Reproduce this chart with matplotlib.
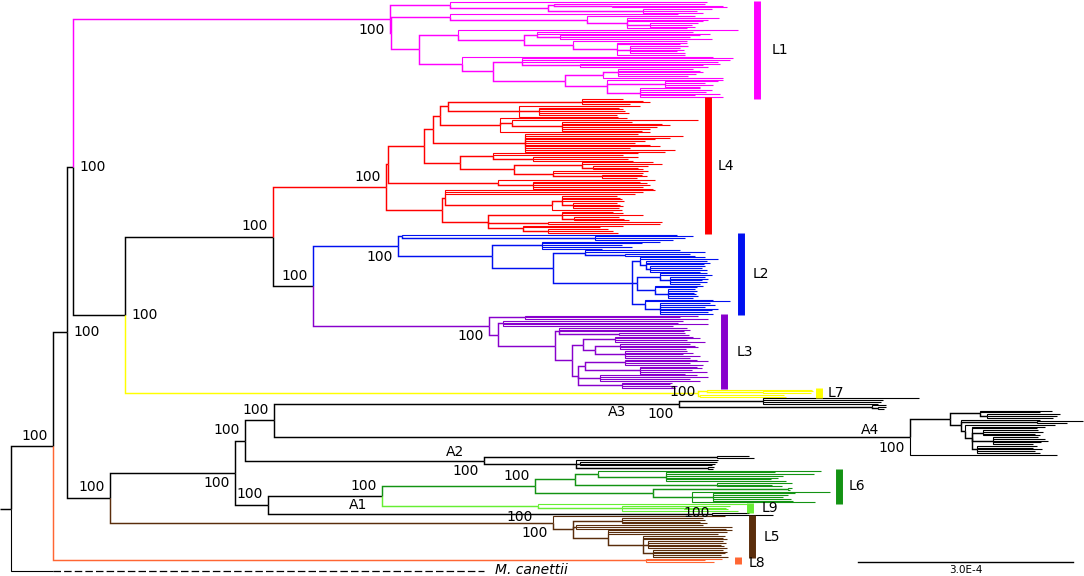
#!/usr/bin/env python3
"""Redraw the MTBC maximum-likelihood tree with lineage bars."""

import matplotlib

matplotlib.use("Agg")
import matplotlib.pyplot as plt
from matplotlib.collections import LineCollection

# Branch lengths are in scale-bar units: 215 units = 3.0E-4 substitutions/site.
L1 = ("((:257,((:151,(:111,:115):58):6,(:69,:54,:60):95):98):60,"
      "((:228,(:108,(:92,:81,:76,(:48,:42,:45):23,:60):40):137):59,"
      "((:280,((:156,:173,(:140,:130,:152):23):13,(:114,(:70,:63,(:58,:50,:54,:47,:55):13,:68):44):49):66):39,"
      "(:251,((:211,:208,:196,(:140,:123,:128):58):29,(((:75,:82,:85,:78,:70):15,:120):38,"
      "(:116,(:53,:40,:48,:35):58,(:60,:72,:66,:80,:55,:83):33):42):72):31):43):28):1)L1:317")
L4 = ("(((((((:41,:61,:68,:48):134,(:121,(:80,:84,:86,:90,:78):20,:99):71):8,"
      "(:127,(:186,(:70,:100,:108,:95,:88,:80):50):12,:150):60):7,"
      "(:113,:158,:145,:130,:120,:110,:125,:135,:105,:150,:140):92):9,"
      "((:145,:130,(:105,:95,:100):40):33,((:71,:80,(:55,:45,:50):11):68,(:95,:90,(:40,:45,:35):49):39):54):36):36,"
      "(:157,(:107,:114,:117,:110,:120):35):110):2,"
      "((:210,:198,:190,((:55,:58,:60,:62,(:44,:47,:50,:46):11):10,:70):107):3,"
      "((:51,:61,:81,(:45,:50,:55):12):74,(:114,:112):60,(:100,:77,(:60,:65,:70):25):35):46):56)L4:113")
L2 = ("((:275,(:98,:90,:78):193):4,((:118,:100,:80,:90,:60):50,((:95,:120,(:65,:70):40):32,"
      "((:65,:78,(:61,:64,:58,(:55,:52,:57,:50):4):6):8,"
      "((:47,:52,(:35,:38,:32,:37,:30):10):23,(:48,:42,(:27,:29,:26,:28,:30,:25):13):18):5,"
      "(:68,:85,(:50,:55,:45,:58,:52,:48,:53):15):13):79):61):94)L2:85")
L3 = ("((:173,:155,:183):36,((:180,:175,:205,:170):5,((:128,:131,:125,(:66,:70):60):4,"
      "(((:78,:85,:72,:90):32,((:70,:75,:78,:66):25,(:62,:68,:58,:75,:65):30):12):11,"
      "(((:72,:83,:65,:78):40,(:57,:62,:52,:67,:45):55):7,(:97,:108,:90,:100):22,"
      "(:50,:48,:55,:53):44):6):17):57):9)L3:176")
L7 = "((:105,(:50,:48):56):9,(:84,:86):2)L7:573"
A3 = "((:156,:120,:118,:115):84,(:14,(:8,:6):6):193)A3:405"
A4 = ("(((:72,:60,(:73,:70,:66):7):30,(:79,(:46,:30):76,(:90,(:73,:65,(:55,:60,:52,:57):11,"
      "(:45,:52,:55,:48,:40):21,(:60,:56,:65,:58,:63):5):7):4):11):40,:147)A4:636")
A2 = "((:32,:37):233,(:142,(:137,:135,:132):4,(:6,:5):132):92)A2:239.5"
L6 = ("(((:223,(:109,:148,:117,:112,:105,:120):68):23,(:75,:55,:65):142):40,"
      "((:4,:2):135,(:138,(:82,:75,:70,:78,:80):21,:123):39):118)L6:153")
L9 = "(:209,(:108,(:42,:44):62,:116):84)L9:156"
A1 = "(:37,:61)A1:444"
L5 = ("(:172,((:81,:83,:78,:85):49,(:127,:156,:150):3,(:124,:119,:110,(:82,:80,:84,"
      "(:75,:78,:73,:76,:79):5,(:70,:74,:72,:68,:75):10):35):35):20)L5:443")
L8 = "(:76,:59,:68)L8:593"
OUTGROUP = "M. canettii"

TREE = ("((((" + L1 + ",((" + L4 + ",(" + L2 + "," + L3 + ")L2L3:40)E:148," + L7 + ")D:52)C:6,"
        "((((" + A3 + "," + A4 + ")I:29.5," + A2 + ")H:9.5,((" + L6 + "," + L9 + ")K:114,"
        + A1 + ")J:33)G:125," + L5 + ")F:43)B:14," + L8 + ")MTBC:42," + OUTGROUP + ":473)root:11")

SUPPORT = {
    "MTBC": 100, "B": 100, "C": 100, "D": 100, "E": 100, "L2L3": 100, "L1": 100,
    "L4": 100, "L2": 100, "L3": 100, "L7": 100, "F": 100, "G": 100, "H": 100,
    "I": 100, "A3": 100, "A4": 100, "A2": 100, "J": 100, "K": 100, "L6": 100,
    "L9": 100, "A1": 100, "L5": 100,
}

CLADE_COLORS = {
    "L1": "#FF00FF", "L4": "#FF0000", "L2": "#0010F0", "L3": "#8800CC",
    "L7": "#FFFF00", "L6": "#139313", "L9": "#66EE33", "L5": "#5A2D0C",
    "L8": "#FF6633",
}

# label placement (style only)
SUPPORT_SIDE = {
    "MTBC": "above", "E": "above", "L4": "above", "L2L3": "above", "F": "above",
    "H": "above", "I": "above", "J": "above", "K": "above", "L6": "above",
    "L2": "below", "L3": "below", "L1": "below", "G": "below", "A2": "below",
    "A3": "below", "A4": "below", "L9": "below", "L5": "below",
    "B": "right", "C": "right", "D": "right", "L7": "mid", "A1": "mid",
}
BRANCH_NAME_OFFSET = {"A3": (-62, 8), "A4": (-40, -7), "A2": (-29, -9), "A1": (-354, -9)}
CLADE_BAR_X = {
    "L1": (757, 772), "L4": (707.5, 718), "L2": (741, 753), "L3": (724, 737),
    "L7": (819, 828), "L6": (839, 849), "L9": (750, 762), "L5": (752, 764),
    "L8": (738, 749),
}
CLADE_LABEL_DY = {"L8": 3}
TIP_TOP, TIP_BOTTOM = 2, 571
OUTGROUP_GAP_ROWS = 4  # extra space above the truncated outgroup branch
SCALE_BAR = (858, 1073, 562)
SCALE_LABEL = "3.0E-4"


def parse_newick(text):
    pos = 0

    def node():
        nonlocal pos
        children = []
        if text[pos] == "(":
            pos += 1
            children.append(node())
            while text[pos] == ",":
                pos += 1
                children.append(node())
            if text[pos] != ")":
                raise ValueError(f"bad newick at {pos}")
            pos += 1
        start = pos
        while pos < len(text) and text[pos] not in ":,()":
            pos += 1
        name = text[start:pos]
        length = 0.0
        if pos < len(text) and text[pos] == ":":
            pos += 1
            start = pos
            while pos < len(text) and text[pos] not in ",()":
                pos += 1
            length = float(text[start:pos])
        return {"name": name, "length": length, "children": children}

    return node()


def layout(node, parent_x, counter):
    node["parent_x"] = parent_x
    node["x"] = parent_x + node["length"]
    if node["children"]:
        for child in node["children"]:
            layout(child, node["x"], counter)
        node["row"] = (node["children"][0]["row"] + node["children"][-1]["row"]) / 2
    else:
        if node["name"] == OUTGROUP:
            counter[0] += OUTGROUP_GAP_ROWS
        node["row"] = counter[0]
        counter[0] += 1


def walk(node):
    yield node
    for child in node["children"]:
        yield from walk(child)


def main():
    root = parse_newick(TREE)
    counter = [0]
    layout(root, 0.0, counter)
    step = (TIP_BOTTOM - TIP_TOP) / (counter[0] - 1)
    by_name = {}
    for node in walk(root):
        node["y"] = TIP_TOP + node["row"] * step
        if node["name"]:
            by_name[node["name"]] = node

    fig = plt.figure(figsize=(10.84, 5.76), dpi=100)
    ax = fig.add_axes([0, 0, 1, 1])
    ax.set_xlim(0, 1084)
    ax.set_ylim(576, 0)
    ax.axis("off")

    segments = {}

    def draw(node, parent, color):
        color = CLADE_COLORS.get(node["name"], color)
        px, x, y = node["parent_x"], node["x"], node["y"]
        if parent is None:
            path = [(px, y), (x, y)]
        elif node["name"] == OUTGROUP:
            solid_end = parent["children"][0]["x"]
            path = [(px, parent["y"]), (px, y), (solid_end, y)]
            ax.plot([solid_end, x], [y, y], color=color, lw=0.9, dashes=(6, 2.5))
            ax.text(x + 11, 574, OUTGROUP, fontsize=10, style="italic", va="baseline", ha="left")
        else:
            path = [(px, parent["y"]), (px, y), (x, y)]
        kind = "tip" if not node["children"] else "inner"
        segments.setdefault((color, kind), []).append(path)
        for child in node["children"]:
            draw(child, node, color)

    draw(root, None, "black")
    for (color, kind), paths in segments.items():
        ax.add_collection(LineCollection(paths, colors=color,
                                         linewidths=0.8 if kind == "tip" else 1.05,
                                         capstyle="butt", joinstyle="miter"))

    # bootstrap support
    for name, value in SUPPORT.items():
        node = by_name[name]
        side = SUPPORT_SIDE[name]
        x, y = node["x"], node["y"]
        if side == "above":
            ax.text(x - 5, y - 10.5, str(value), fontsize=10, ha="right", va="center")
        elif side == "below":
            ax.text(x - 5, y + 10.5, str(value), fontsize=10, ha="right", va="center")
        elif side == "right":
            ax.text(x + 6, y, str(value), fontsize=10, ha="left", va="center")
        else:
            ax.text(x - 2, y - 1, str(value), fontsize=10, ha="right", va="center")

    for name, (dx, dy) in BRANCH_NAME_OFFSET.items():
        node = by_name[name]
        ax.text(node["x"] + dx, node["y"] + dy, name, fontsize=10, ha="center", va="center")

    # lineage bars from the tips they cover
    for name, (bar_x, label_x) in CLADE_BAR_X.items():
        ys = [n["y"] for n in walk(by_name[name]) if not n["children"]]
        lo, hi = min(ys) - 1.5, max(ys) + 1.5
        ax.plot([bar_x, bar_x], [lo, hi], color=CLADE_COLORS[name], lw=5, solid_capstyle="butt")
        ax.text(label_x, (lo + hi) / 2 + CLADE_LABEL_DY.get(name, 0), name,
                fontsize=10, ha="left", va="center")

    x0, x1, ys = SCALE_BAR
    ax.plot([x0, x1], [ys, ys], color="black", lw=1.0)
    ax.text((x0 + x1) / 2, ys + 8, SCALE_LABEL, fontsize=7.5, ha="center", va="center")

    fig.savefig("out.png", dpi=100)
    plt.close(fig)


if __name__ == "__main__":
    main()
